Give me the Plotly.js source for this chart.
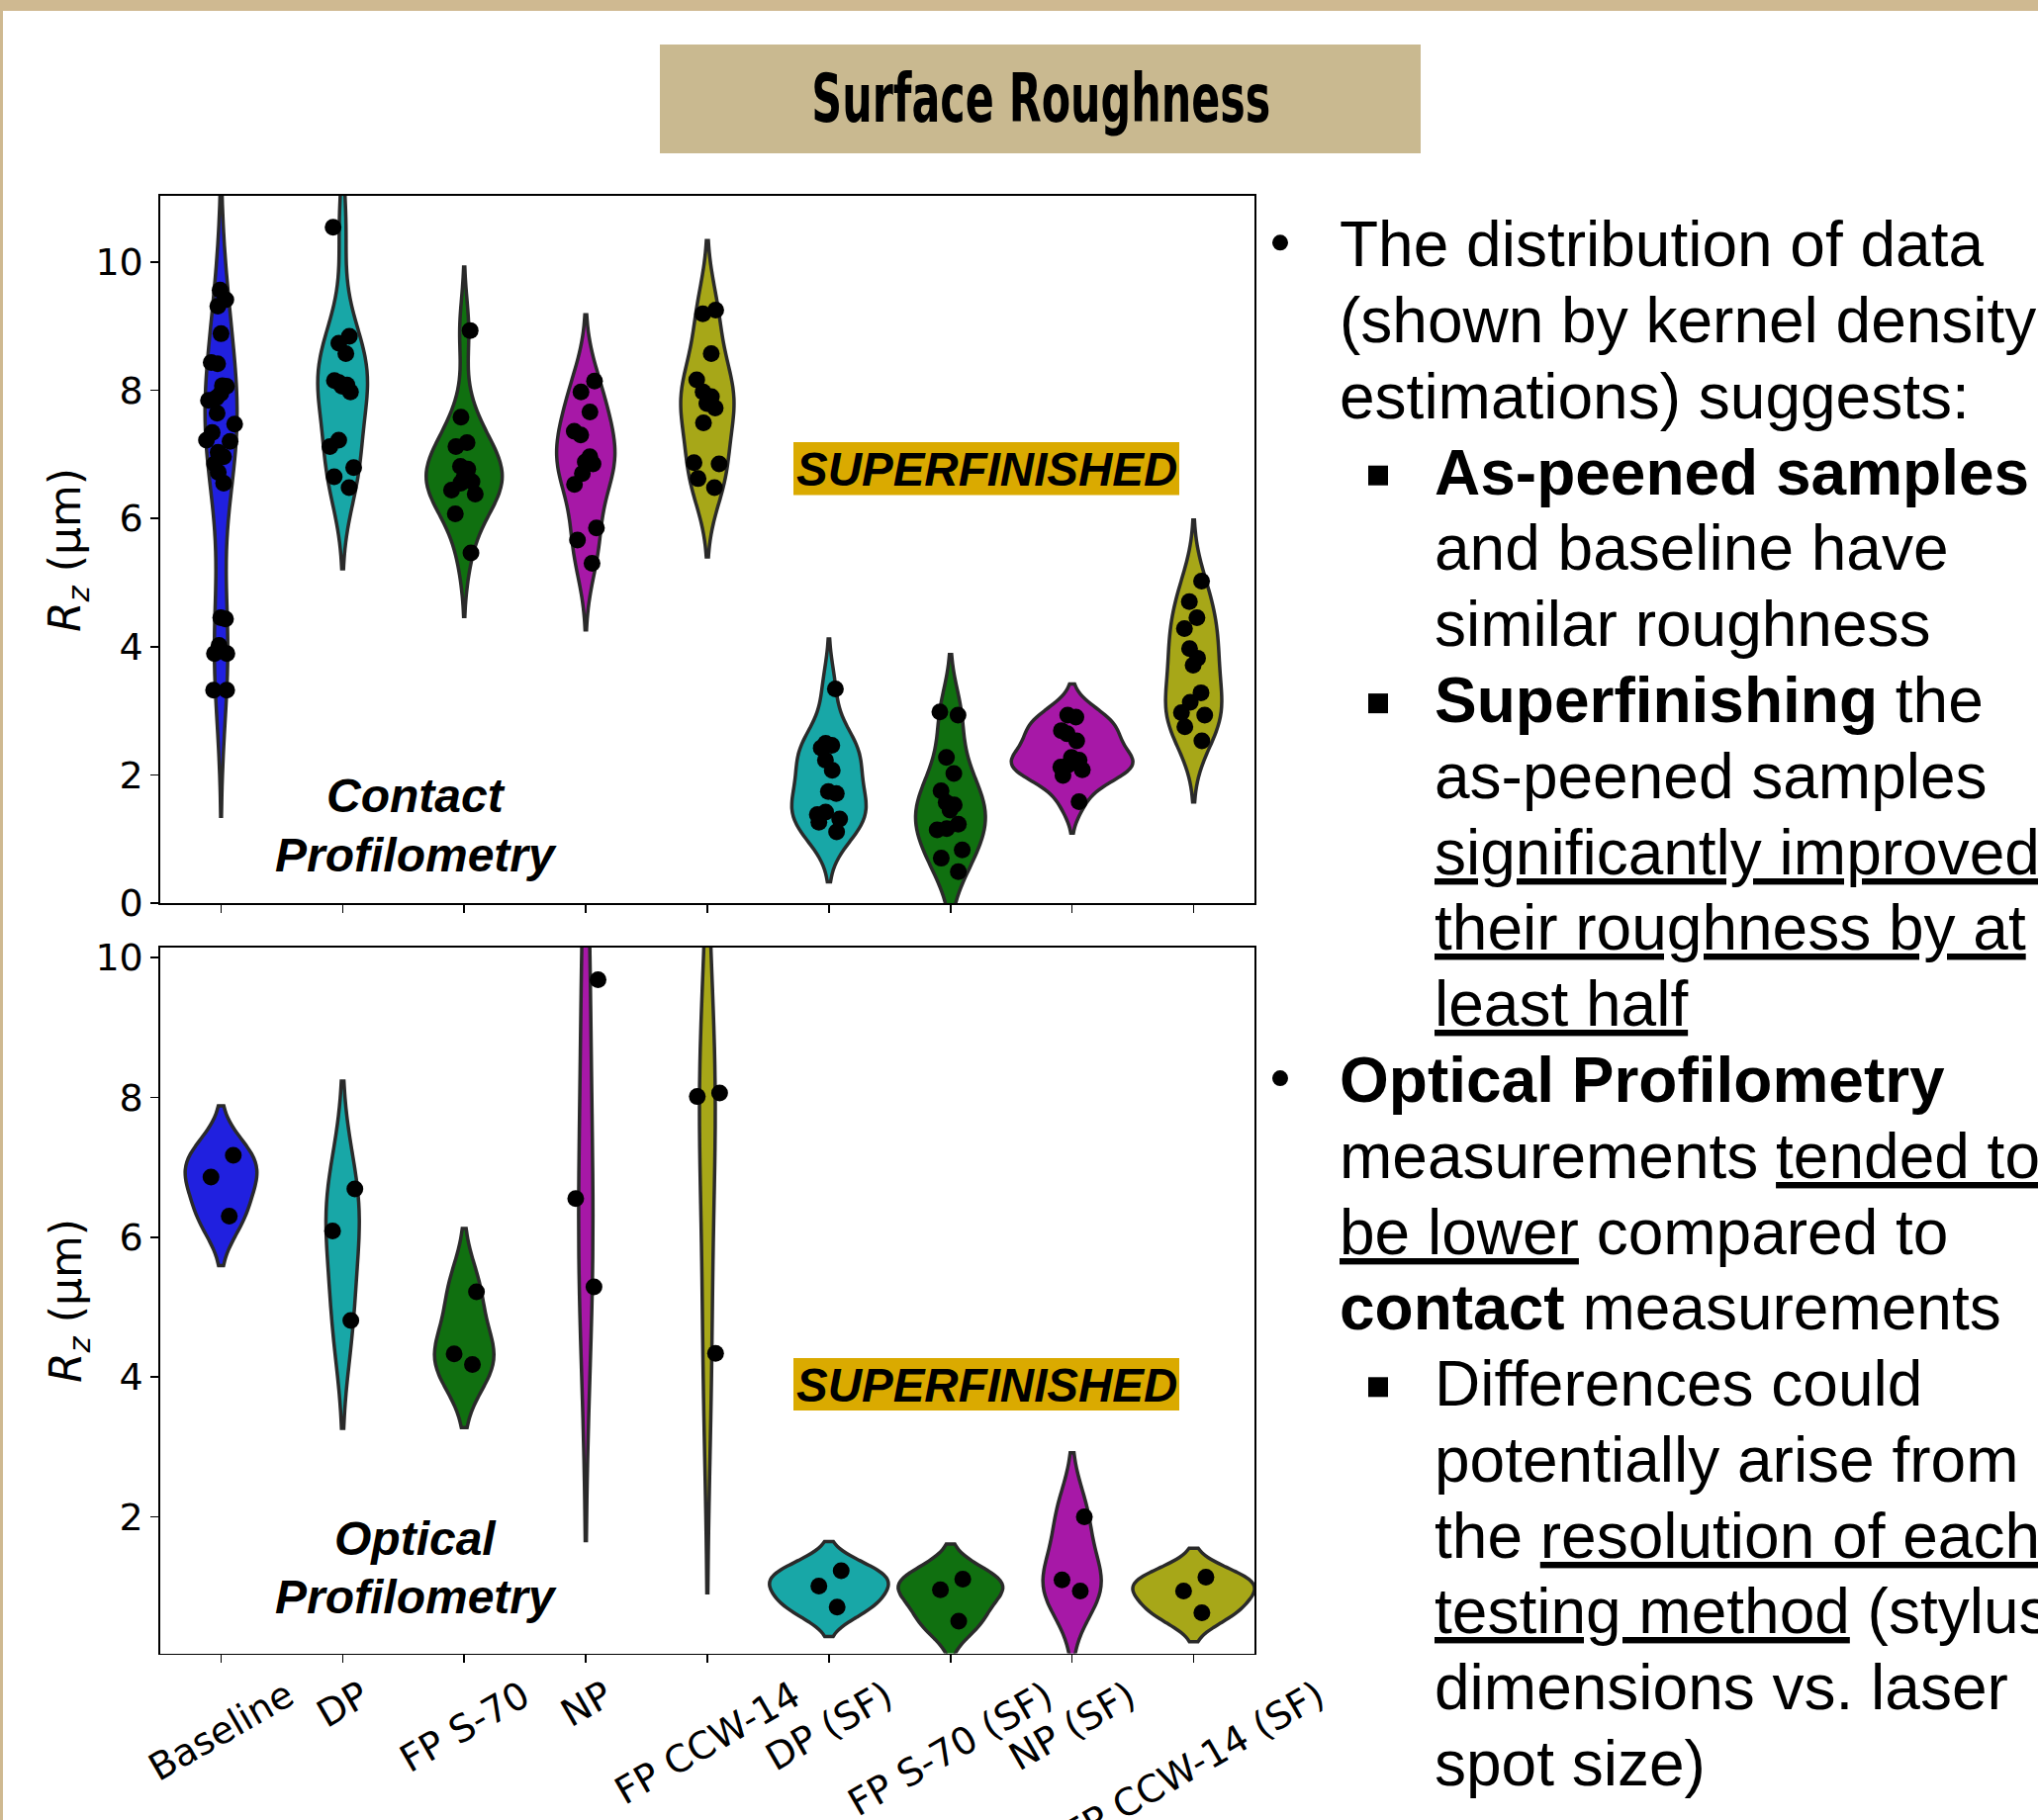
<!DOCTYPE html>
<html>
<head>
<meta charset="utf-8">
<script src="https://cdn.plot.ly/plotly-3.0.1.min.js"></script>
<style>
html, body { margin: 0; padding: 0; background: #ffffff; }
#chart { width: 2060px; height: 1840px; }
</style>
</head>
<body>
<div id="chart"></div>
<script>
// ---------------- DATA ----------------
const categories = ['Baseline', 'DP', 'FP S-70', 'NP', 'FP CCW-14',
                    'DP (SF)', 'FP S-70 (SF)', 'NP (SF)', 'FP CCW-14 (SF)'];
const groupColors = ['#2020DF', '#18A7A7', '#107010', '#A718A7', '#A7A718',
                     '#18A7A7', '#107010', '#A718A7', '#A7A718'];

// Contact profilometry Rz (um)
const contactBaseline = [9.56, 9.41, 9.31, 8.88, 8.43, 8.41, 8.07, 8.06, 7.95, 7.88, 7.84, 7.64, 7.47, 7.34,
                         7.22, 7.20, 7.03, 6.96, 6.85, 6.72, 6.55, 4.45, 4.43, 4.02, 3.89, 3.89, 3.32, 3.32];
const contactDP       = [10.54, 8.84, 8.73, 8.57, 8.15, 8.12, 8.08, 8.06, 7.97, 7.22, 7.12, 6.79, 6.65, 6.48];
const contactFPS70    = [8.93, 7.58, 7.18, 7.12, 6.81, 6.77, 6.62, 6.57, 6.55, 6.44, 6.38, 6.07, 5.46];
const contactNP       = [8.14, 7.97, 7.66, 7.36, 7.30, 6.96, 6.88, 6.85, 6.70, 6.53, 5.85, 5.66, 5.30];
const contactFPCCW14  = [9.25, 9.19, 8.57, 8.16, 7.97, 7.90, 7.79, 7.72, 7.49, 6.87, 6.85, 6.62, 6.48];
const contactDPSF     = [3.34, 2.49, 2.46, 2.42, 2.23, 2.07, 1.74, 1.71, 1.42, 1.38, 1.31, 1.26, 1.11];
const contactFPS70SF  = [2.98, 2.93, 2.27, 2.02, 1.75, 1.57, 1.53, 1.45, 1.23, 1.16, 1.14, 0.83, 0.70, 0.49];
const contactNPSF     = [2.93, 2.90, 2.69, 2.64, 2.53, 2.27, 2.23, 2.16, 2.12, 2.08, 1.99, 1.58];
const contactFPCCW14SF = [5.02, 4.70, 4.45, 4.28, 3.97, 3.82, 3.71, 3.28, 3.13, 2.97, 2.93, 2.75, 2.53];

// Optical profilometry Rz (um)
const opticalBaseline  = [7.17, 6.86, 6.30];
const opticalDP        = [6.69, 6.09, 4.81];
const opticalFPS70     = [5.22, 4.33, 4.18];
const opticalNP        = [9.68, 6.55, 5.29];
const opticalFPCCW14   = [8.06, 8.01, 4.34];
const opticalDPSF      = [1.23, 1.01, 0.71];
const opticalFPS70SF   = [1.11, 0.96, 0.51];
const opticalNPSF      = [2.00, 1.10, 0.94];
const opticalFPCCW14SF = [1.14, 0.94, 0.63];

const yTicksContact = [0, 2, 4, 6, 8, 10];
const yTicksOptical = [2, 4, 6, 8, 10];

const contactData = [contactBaseline, contactDP, contactFPS70, contactNP, contactFPCCW14,
                     contactDPSF, contactFPS70SF, contactNPSF, contactFPCCW14SF];
const opticalData = [opticalBaseline, opticalDP, opticalFPS70, opticalNP, opticalFPCCW14,
                     opticalDPSF, opticalFPS70SF, opticalNPSF, opticalFPCCW14SF];

// ---------------- HELPERS ----------------
const W = 2060, H = 1840;
const px = x => x / W;
const py = y => 1 - y / H;

// Scott's rule bandwidth (as used by seaborn / scipy gaussian_kde)
function scottBandwidth(v) {
  const n = v.length;
  const m = v.reduce((a, b) => a + b, 0) / n;
  const s = Math.sqrt(v.reduce((a, b) => a + (b - m) * (b - m), 0) / (n - 1));
  return s * Math.pow(n, -0.2);
}

const traces = [];
function addViolins(data, xa, ya, group) {
  data.forEach((vals, i) => {
    traces.push({
      type: 'violin',
      x: vals.map(() => categories[i]),
      y: vals,
      xaxis: xa, yaxis: ya,
      name: categories[i],
      scalegroup: group,
      scalemode: 'width',
      spanmode: 'soft',
      bandwidth: scottBandwidth(vals),
      fillcolor: groupColors[i],
      opacity: 1,
      line: { color: '#2a2a2a', width: 3.5 },
      points: 'all',
      pointpos: 0,
      jitter: 0.26,
      marker: { color: '#000000', size: 17, line: { width: 0 } },
      box: { visible: false },
      meanline: { visible: false },
      showlegend: false,
      hoverinfo: 'skip'
    });
  });
}
addViolins(contactData, 'x', 'y', 'contact');
addViolins(opticalData, 'x2', 'y2', 'optical');

// ---------------- LAYOUT ----------------
const xDomain = [px(162), px(1268)];
const frame = {
  showline: true, linecolor: '#000000', linewidth: 1.6, mirror: true,
  ticks: 'outside', ticklen: 8, tickwidth: 1.6, tickcolor: '#000000',
  showgrid: false, zeroline: false,
  tickfont: { family: 'DejaVu Sans', size: 38, color: '#000000' }
};
const xAxisBase = Object.assign({}, frame, {
  domain: xDomain, type: 'category', categoryorder: 'array', categoryarray: categories,
  range: [-0.5, 8.5], showticklabels: false
});

const annotations = [];
const shapes = [];

// Title band / box
shapes.push({ type: 'rect', xref: 'paper', yref: 'paper', x0: 0, x1: 1, y0: py(11), y1: py(0),
              fillcolor: '#CFB991', line: { width: 0 }, layer: 'below' });
shapes.push({ type: 'rect', xref: 'paper', yref: 'paper', x0: 0, x1: px(3), y0: 0, y1: 1,
              fillcolor: '#CFB991', line: { width: 0 }, layer: 'below' });
shapes.push({ type: 'rect', xref: 'paper', yref: 'paper', x0: px(667), x1: px(1436), y0: py(155), y1: py(45),
              fillcolor: '#C9B990', line: { width: 0 }, layer: 'below' });
annotations.push({ xref: 'paper', yref: 'paper', x: px(1052), y: py(99), xanchor: 'center', yanchor: 'middle',
  text: '<b>Surface Roughness</b>', showarrow: false,
  font: { family: 'Liberation Sans Narrow, DejaVu Sans Condensed, Liberation Sans, Arial', size: 68, color: '#000000' } });

// Y axis titles
const rzTitle = '<i>R</i><sub><i>z</i></sub> (µm)';
[556, 1315].forEach(yc => {
  annotations.push({ xref: 'paper', yref: 'paper', x: px(69), y: py(yc), xanchor: 'center', yanchor: 'middle',
    textangle: -90, text: rzTitle, showarrow: false,
    font: { family: 'DejaVu Sans', size: 44, color: '#000000' } });
});

// X tick labels (centred under ticks, rotated 30 deg)
categories.forEach(c => {
  annotations.push({ xref: 'x2', yref: 'paper', x: c, y: py(1688), xanchor: 'center', yanchor: 'top',
    textangle: -30, text: c, showarrow: false,
    font: { family: 'DejaVu Sans', size: 38, color: '#000000' } });
});

// Panel labels (one annotation per line to match line spacing)
const labelFont = { family: 'Liberation Sans, Arial, sans-serif', size: 48, color: '#000000' };
[['Contact', 821], ['Profilometry', 880.7], ['Optical', 1572], ['Profilometry', 1631]].forEach(([t, base]) => {
  annotations.push({ xref: 'paper', yref: 'paper', x: px(420), y: py(base - 16.6), xanchor: 'center', yanchor: 'middle',
    text: '<b><i>' + t + '</i></b>', showarrow: false, font: labelFont });
});

// SUPERFINISHED labels
[[447, 500.5, 474], [1373, 1426, 1400]].forEach(([y0, y1, yc]) => {
  shapes.push({ type: 'rect', xref: 'paper', yref: 'paper', x0: px(802), x1: px(1192), y0: py(y1), y1: py(y0),
                fillcolor: '#DAAA00', line: { width: 0 }, layer: 'below' });
  annotations.push({ xref: 'paper', yref: 'paper', x: px(997), y: py(yc), xanchor: 'center', yanchor: 'middle',
    text: '<b><i>SUPERFINISHED</i></b>', showarrow: false,
    font: { family: 'Liberation Sans, Arial, sans-serif', size: 47.5, color: '#000000' } });
});

// Right-hand notes
const U = s => '<span style="text-decoration:underline">' + s + '</span>';
const notes = [
  { t: 'The distribution of data', ind: 0, bullet: 'dot' },
  { t: '(shown by kernel density', ind: 0 },
  { t: 'estimations) suggests:', ind: 0 },
  { t: '<b>As-peened samples</b>', ind: 1, bullet: 'sq' },
  { t: 'and baseline have', ind: 1 },
  { t: 'similar roughness', ind: 1 },
  { t: '<b>Superfinishing</b> the', ind: 1, bullet: 'sq' },
  { t: 'as-peened samples', ind: 1 },
  { t: U('significantly improved'), ind: 1 },
  { t: U('their roughness by at'), ind: 1 },
  { t: U('least half'), ind: 1 },
  { t: '<b>Optical Profilometry</b>', ind: 0, bullet: 'dot' },
  { t: 'measurements ' + U('tended to'), ind: 0 },
  { t: U('be lower') + ' compared to', ind: 0 },
  { t: '<b>contact</b> measurements', ind: 0 },
  { t: 'Differences could', ind: 1, bullet: 'sq' },
  { t: 'potentially arise from', ind: 1 },
  { t: 'the ' + U('resolution of each'), ind: 1 },
  { t: U('testing method') + ' (stylus', ind: 1 },
  { t: 'dimensions vs. laser', ind: 1 },
  { t: 'spot size)', ind: 1 }
];
const noteFont = { family: 'Liberation Sans, Arial, sans-serif', size: 64, color: '#000000' };
notes.forEach((n, i) => {
  const base = 269.3 + 76.8 * i;
  const xText = n.ind === 0 ? 1352 : 1448;
  annotations.push({ xref: 'paper', yref: 'paper', x: px(xText), y: py(base - 22.2),
    xanchor: 'left', yanchor: 'middle', text: n.t, showarrow: false, font: noteFont });
  if (n.bullet === 'dot') {
    const cy = base - 24;
    shapes.push({ type: 'circle', xref: 'paper', yref: 'paper', x0: px(1286), x1: px(1302), y0: py(cy + 8), y1: py(cy - 8),
                  fillcolor: '#000000', line: { width: 0 } });
  } else if (n.bullet === 'sq') {
    const cy = base - 19;
    shapes.push({ type: 'rect', xref: 'paper', yref: 'paper', x0: px(1383), x1: px(1403), y0: py(cy + 10), y1: py(cy - 10),
                  fillcolor: '#000000', line: { width: 0 } });
  }
});

const layout = {
  width: W, height: H,
  margin: { l: 0, r: 0, t: 0, b: 0, pad: 0 },
  paper_bgcolor: '#ffffff', plot_bgcolor: '#ffffff',
  showlegend: false,
  violinmode: 'overlay', violingap: 0, violingroupgap: 0,
  font: { family: 'DejaVu Sans', color: '#000000' },
  xaxis: Object.assign({}, xAxisBase, { anchor: 'y' }),
  xaxis2: Object.assign({}, xAxisBase, { anchor: 'y2' }),
  yaxis: Object.assign({}, frame, { domain: [py(913), py(198)], anchor: 'x', range: [0, 11.03],
                                    tickmode: 'array', tickvals: yTicksContact }),
  yaxis2: Object.assign({}, frame, { domain: [py(1671.5), py(958)], anchor: 'x2', range: [0.05, 10.14],
                                     tickmode: 'array', tickvals: yTicksOptical }),
  annotations: annotations,
  shapes: shapes
};

Plotly.newPlot('chart', traces, layout, { displayModeBar: false, staticPlot: true }).then(() => {
  document.querySelectorAll('.annotation-text').forEach(el => {
    if (el.textContent === 'Surface Roughness') {
      el.setAttribute('textLength', '464');
      el.setAttribute('lengthAdjust', 'spacingAndGlyphs');
    }
  });
});
</script>
</body>
</html>
